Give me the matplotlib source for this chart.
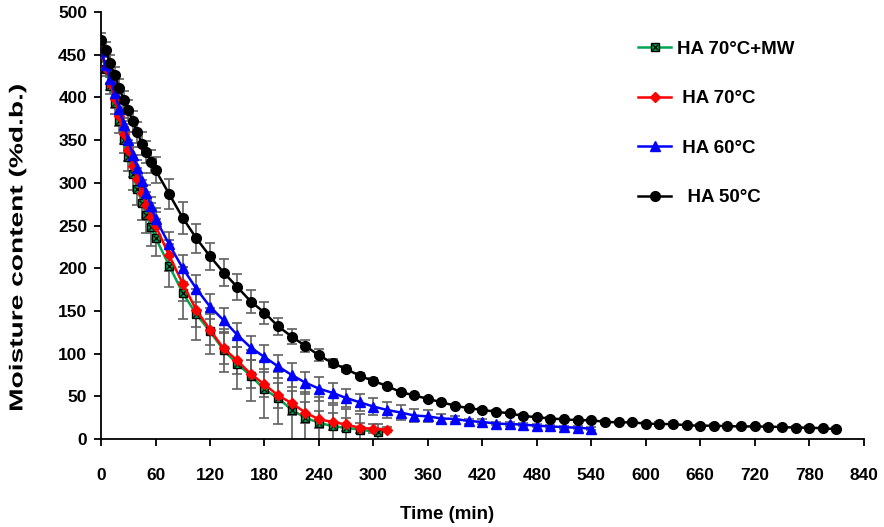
import matplotlib
matplotlib.use("Agg")
import matplotlib.pyplot as plt
from matplotlib.lines import Line2D
from matplotlib.legend_handler import HandlerTuple
from matplotlib.patheffects import AbstractPathEffect
from matplotlib.transforms import Affine2D

plt.rcParams['font.family'] = ['Liberation Sans', 'DejaVu Sans']
plt.rcParams['font.weight'] = 'bold'

# ---- data ----
t_mw = [0, 5, 10, 15, 20, 25, 30, 35, 40, 45, 50, 55, 60, 75, 90, 105, 120, 135, 150,
        165, 180, 195, 210, 225, 240, 255, 270, 285, 305]
mc_mw = [455, 433, 414, 393, 372, 350, 330, 310, 293, 277, 262, 248, 236, 203, 171, 146,
         126, 104, 88, 74, 58, 48, 34, 25, 19, 15, 13, 11, 8]
err_mw = [6, 8, 10, 12, 14, 15, 16, 18, 19, 20, 21, 22, 22, 25, 30, 30, 27, 25, 30, 30,
          33, 30, 36, 30, 30, 25, 22, 18, 10]

t_70 = [0, 5, 10, 15, 20, 25, 30, 35, 40, 45, 50, 55, 60, 75, 90, 105, 120, 135, 150,
        165, 180, 195, 210, 225, 240, 255, 270, 285, 300, 315]
mc_70 = [455, 435, 417, 398, 378, 357, 338, 320, 304, 288, 274, 260, 250, 215, 182, 151,
         128, 106, 92, 76, 64, 51, 42, 31, 23, 20, 17, 13, 12, 11]
err_70 = [5, 6, 8, 10, 11, 12, 12, 13, 14, 15, 15, 16, 16, 18, 20, 20, 18, 18, 16, 16,
          15, 15, 14, 12, 10, 10, 8, 6, 5, 3]

t_60 = [0, 5, 10, 15, 20, 25, 30, 35, 40, 45, 50, 55, 60, 75, 90, 105, 120, 135, 150,
        165, 180, 195, 210, 225, 240, 255, 270, 285, 300, 315, 330, 345, 360, 375, 390,
        405, 420, 435, 450, 465, 480, 495, 510, 525, 540]
mc_60 = [455, 438, 422, 405, 387, 368, 350, 333, 317, 302, 288, 273, 258, 228, 200, 176,
         155, 139, 122, 107, 96, 85, 75, 66, 59, 54, 48, 43, 38, 34, 31, 27.5, 26.5, 24,
         23.5, 21, 20, 18, 17.5, 16.8, 15.6, 14.8, 13.7, 13.3, 12]
err_60 = [4, 5, 6, 7, 8, 8, 9, 9, 10, 10, 10, 11, 12, 15, 16, 16, 15, 14, 14, 14, 14, 13,
          14, 13, 14, 12, 10, 10, 10, 9, 9, 8, 7, 5, 4, 3, 3, 2, 2, 2, 2, 2, 2, 2, 2]

t_50 = [0, 5, 10, 15, 20, 25, 30, 35, 40, 45, 50, 55, 60, 75, 90, 105, 120, 135, 150,
        165, 180, 195, 210, 225, 240, 255, 270, 285, 300, 315, 330, 345, 360, 375, 390,
        405, 420, 435, 450, 465, 480, 495, 510, 525, 540, 555, 570, 585, 600, 615, 630,
        645, 660, 675, 690, 705, 720, 735, 750, 765, 780, 795, 810]
mc_50 = [467, 456, 440, 426, 411, 397, 385, 372, 359, 346, 336, 325, 315, 287, 259, 235,
         214, 195, 178, 161, 148, 132, 120, 109, 98, 89, 82, 74, 68, 62, 55, 51, 47, 43,
         39, 36, 34, 32, 30, 27, 25.5, 24, 23, 22, 22, 20, 19.5, 19.5, 18, 17.5, 17.5, 16,
         15.6, 15.6, 15, 14.7, 14.7, 14.5, 14, 13.3, 13.3, 12.5, 11.5]
err_50 = [8, 9, 10, 10, 11, 11, 12, 12, 12, 13, 13, 14, 15, 18, 19, 17, 16, 16, 15, 14,
          13, 10, 9, 7, 7, 5, 4, 3, 3, 2, 2, 2, 2, 2, 2, 2, 2, 2, 2, 2, 2, 2, 2, 2, 2, 2,
          2, 2, 2, 2, 2, 2, 2, 2, 2, 2, 2, 2, 2, 2, 2, 2, 2]

labels = ["HA 70°C+MW", " HA 70°C", " HA 60°C", "  HA 50°C"]
x_ticks = [0, 60, 120, 180, 240, 300, 360, 420, 480, 540, 600, 660, 720, 780, 840]
y_ticks = [0, 50, 100, 150, 200, 250, 300, 350, 400, 450, 500]


class StretchY(AbstractPathEffect):
    """Stretch a text's glyphs vertically (display space) about its centre."""
    def __init__(self, sy, text):
        super().__init__()
        self.sy = sy
        self.text = text

    def draw_path(self, renderer, gc, tpath, affine, rgbFace=None):
        bb = self.text.get_window_extent(renderer)
        cy = 0.5 * (bb.y0 + bb.y1)
        tr = affine + Affine2D().translate(0, -cy).scale(1, self.sy).translate(0, cy)
        renderer.draw_path(gc, tpath, tr, rgbFace)


# ---- figure ----
fig = plt.figure(figsize=(8.84, 5.27), dpi=100)
ax = fig.add_axes([0.1143, 0.167, 0.8627, 0.810])

ecol = '#606060'
ekw = dict(fmt='none', ecolor=ecol, elinewidth=1.2, capsize=3.5, capthick=1.2, zorder=1)

GREEN = '#00a651'
ax.errorbar(t_mw, mc_mw, yerr=err_mw, **ekw)
ax.errorbar(t_70, mc_70, yerr=err_70, **ekw)
ax.errorbar(t_60, mc_60, yerr=err_60, **ekw)
ax.errorbar(t_50, mc_50, yerr=err_50, **ekw)

ax.plot(t_mw, mc_mw, color=GREEN, lw=1.8, marker='s', ms=6, mfc=GREEN, mec='black',
        mew=1.0, zorder=3)
ax.plot(t_mw, mc_mw, ls='none', marker='x', ms=4.5, mec='black', mew=0.9, zorder=3.1)
ax.plot(t_70, mc_70, color='#ff0000', lw=1.8, marker='D', ms=5, mfc='#ff0000',
        mec='#ff0000', zorder=4)
ax.plot(t_60, mc_60, color='#0000ff', lw=1.8, marker='^', ms=7, mfc='#0000ff',
        mec='#0000ff', zorder=5)
ax.plot(t_50, mc_50, color='black', lw=1.8, marker='o', ms=7, mfc='black',
        mec='black', zorder=6)

ax.set_xlim(0, 840)
ax.set_ylim(0, 500)
ax.set_xticks(x_ticks)
ax.set_yticks(y_ticks)
for s in ['top', 'right']:
    ax.spines[s].set_visible(False)
for s in ['left', 'bottom']:
    ax.spines[s].set_linewidth(1.3)
ax.tick_params(axis='x', direction='out', length=5, width=1.3, pad=16, labelsize=12.5)
ax.tick_params(axis='y', direction='out', length=5, width=1.3, pad=5, labelsize=12.5)
for lab in ax.get_xticklabels() + ax.get_yticklabels():
    lab.set_fontweight('bold')

ax.set_xlabel("Time (min)", fontsize=13.5, fontweight='bold')
ylab = ax.set_ylabel("Moisture content (%d.b.)", fontsize=13.5, fontweight='bold')
ax.xaxis.set_label_coords(0.4543, -0.178)
ax.xaxis.label.set_va('center')
ax.yaxis.set_label_coords(-0.109, 0.447)
ax.yaxis.label.set_va('center')
ylab.set_path_effects([StretchY(1.5, ylab)])

# legend
h_mw = (Line2D([], [], color=GREEN, lw=1.8, marker='s', ms=6, mfc=GREEN, mec='black'),
        Line2D([], [], ls='none', marker='x', ms=4.5, mec='black', mew=0.9))
h_70 = Line2D([], [], color='#ff0000', lw=1.8, marker='D', ms=5, mfc='#ff0000', mec='#ff0000')
h_60 = Line2D([], [], color='#0000ff', lw=1.8, marker='^', ms=7, mfc='#0000ff', mec='#0000ff')
h_50 = Line2D([], [], color='black', lw=1.8, marker='o', ms=7, mfc='black', mec='black')
leg = fig.legend([h_mw, h_70, h_60, h_50], labels, loc='upper left',
                 bbox_to_anchor=(0.703, 0.955), frameon=False,
                 handler_map={tuple: HandlerTuple(ndivide=1, pad=0)},
                 prop={'weight': 'bold', 'size': 13.5}, labelspacing=1.73,
                 handlelength=1.75, handletextpad=0.3)

fig.savefig("out.png", dpi=100)
